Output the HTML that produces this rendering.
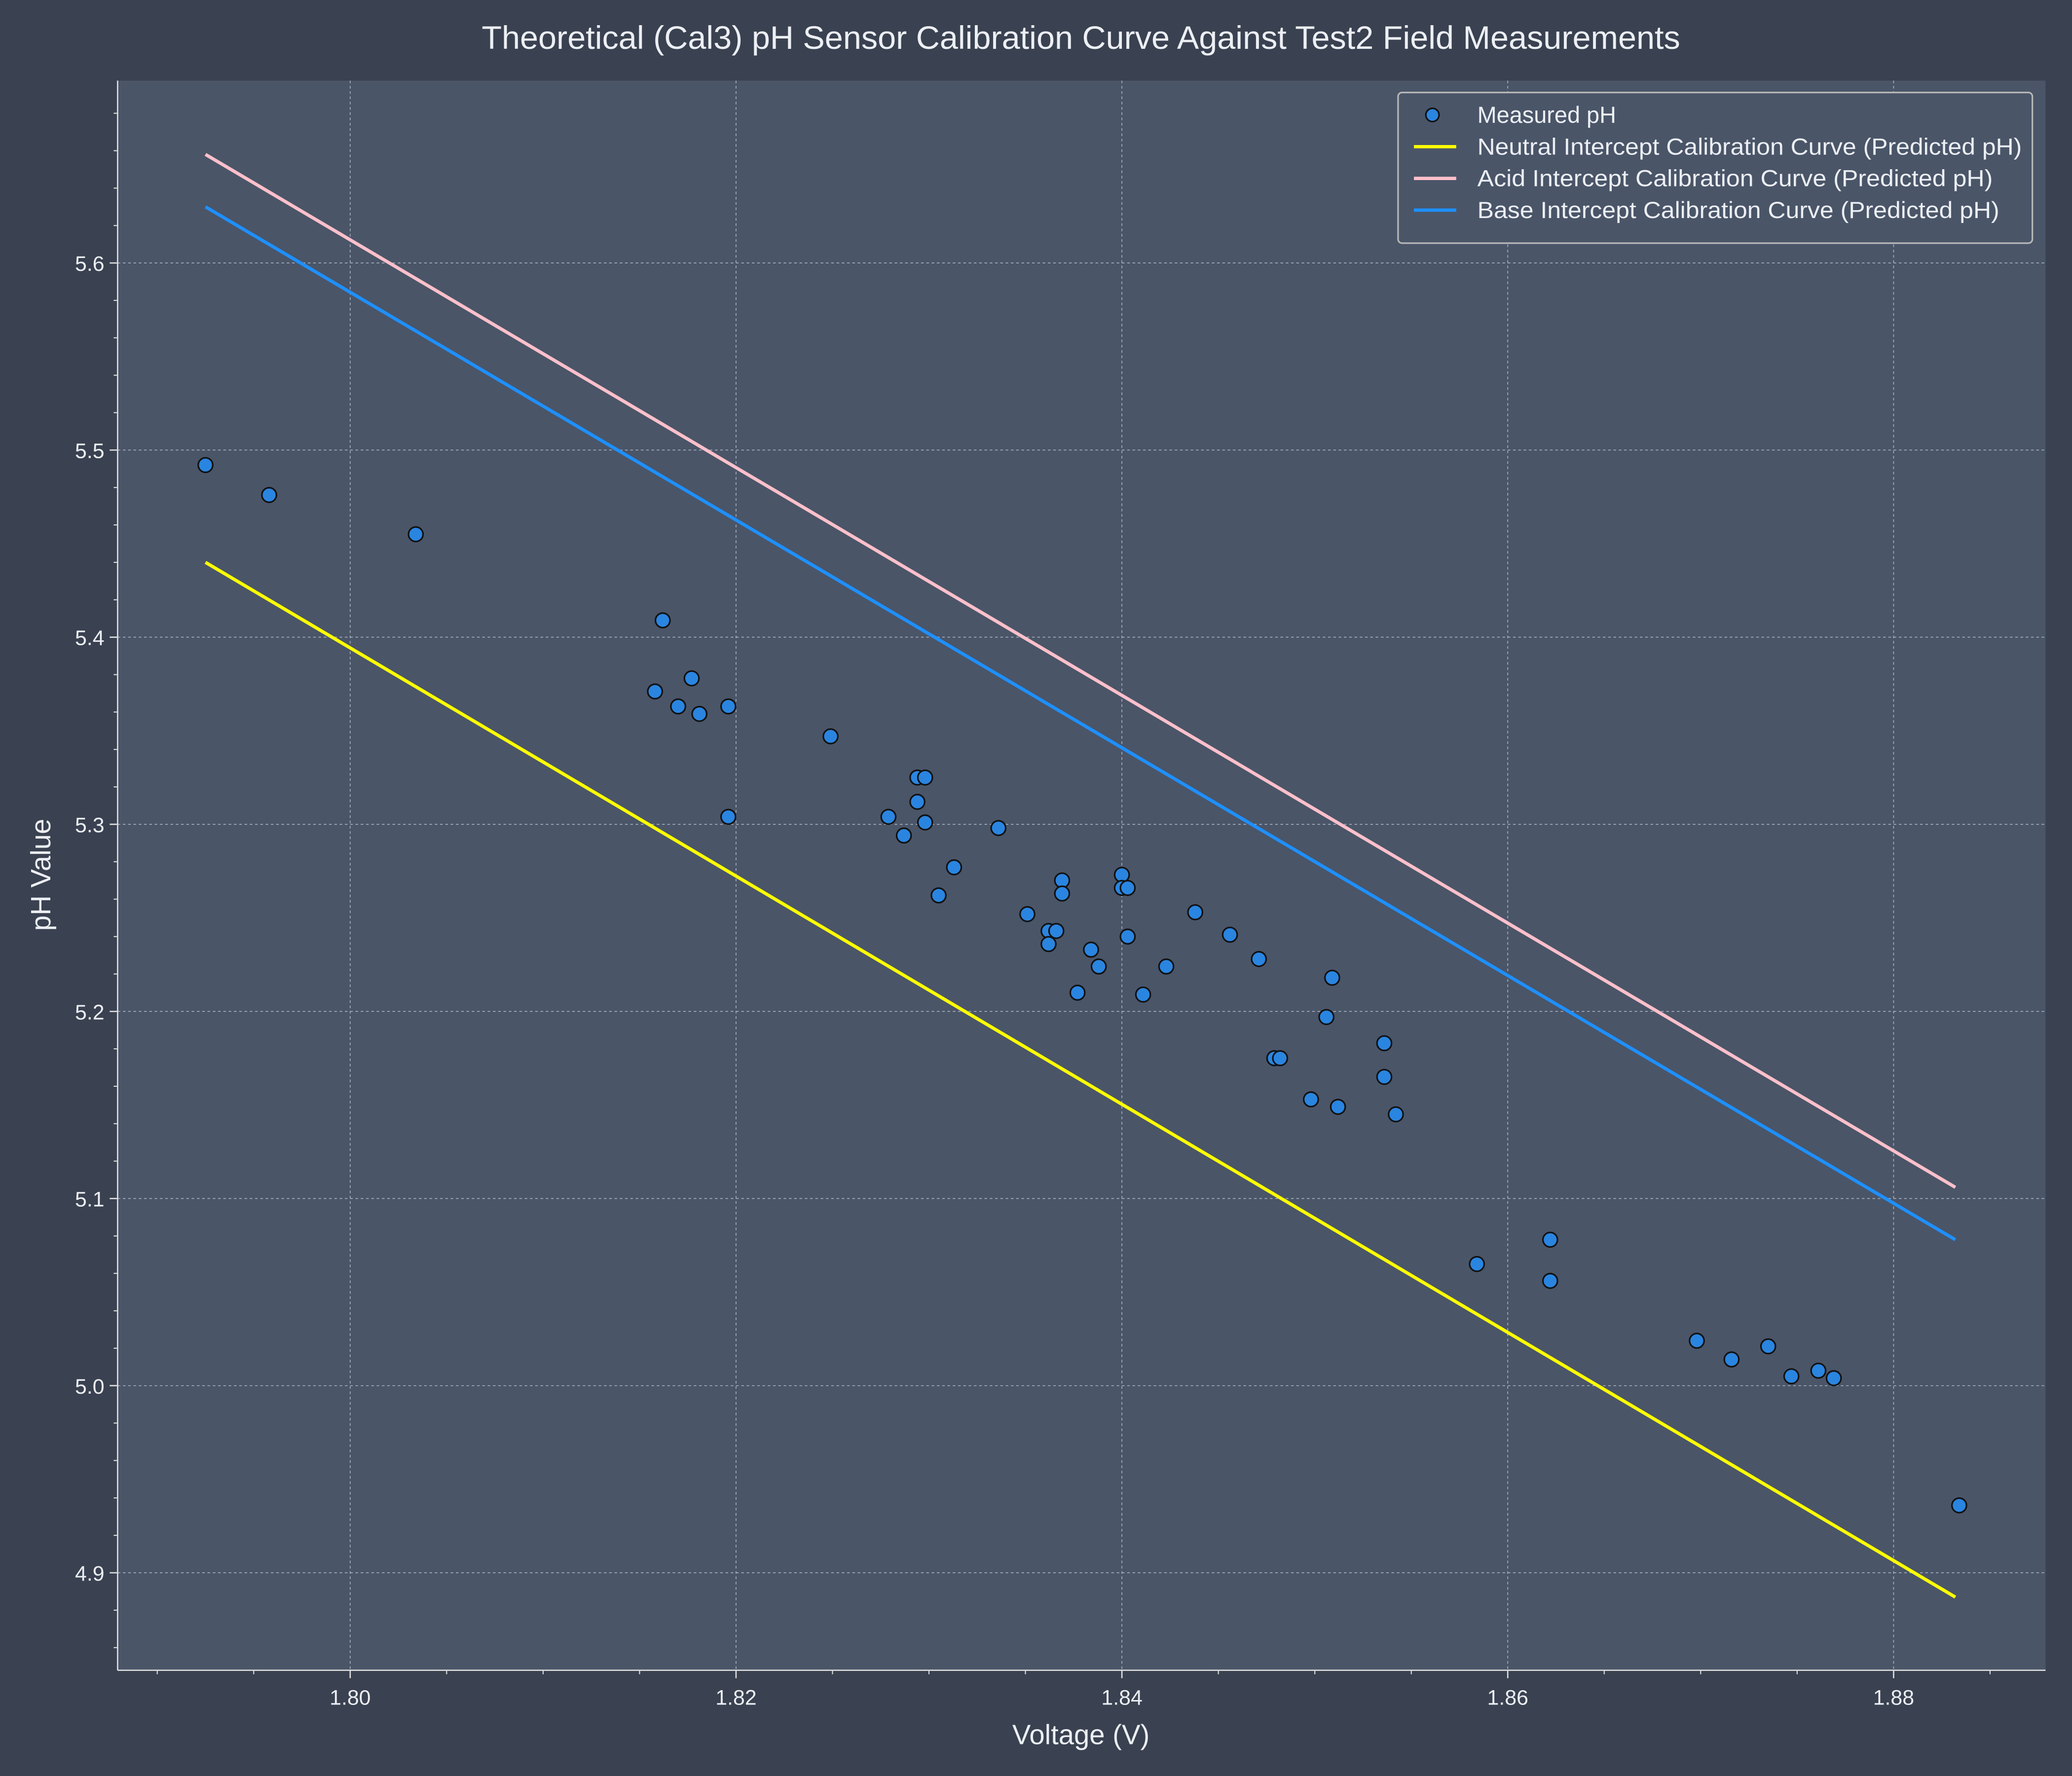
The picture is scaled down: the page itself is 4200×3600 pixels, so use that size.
<!DOCTYPE html>
<html><head><meta charset="utf-8"><style>
html,body{margin:0;padding:0;background:#3a4150;}
svg{display:block;font-family:"Liberation Sans",sans-serif;}
</style></head><body>
<svg id="chart" width="4200" height="3600" viewBox="0 0 1568 1344" xmlns="http://www.w3.org/2000/svg">
<rect x="0" y="0" width="1568" height="1344" fill="#3a4150"/>
<rect x="89" y="61" width="1459" height="1203" fill="#4a5568"/>
<g id="grid"></g>
<g id="axes"></g>
<g id="series"></g>
<text x="818" y="37" text-anchor="middle" font-size="24.5" fill="#eceff4" textLength="907" lengthAdjust="spacingAndGlyphs">Theoretical (Cal3) pH Sensor Calibration Curve Against Test2 Field Measurements</text>
<text x="818" y="1320" text-anchor="middle" font-size="21" fill="#eceff4">Voltage (V)</text>
<text x="38" y="662" text-anchor="middle" font-size="21" fill="#eceff4" transform="rotate(-90 38 662)">pH Value</text>
<g>
<rect x="1058" y="70" width="480" height="114" rx="3" fill="#4a5568" stroke="#b8b8b8" stroke-width="1.2"/>
<circle cx="1084" cy="87" r="5" fill="#2a85e0" stroke="#111" stroke-width="1.2"/>
<text x="1118" y="93" font-size="17.5" fill="#eceff4">Measured pH</text>
<line x1="1070" y1="111" x2="1102" y2="111" stroke="#ffff00" stroke-width="2.5"/>
<text x="1118" y="117" font-size="17.5" fill="#eceff4" textLength="412" lengthAdjust="spacingAndGlyphs">Neutral Intercept Calibration Curve (Predicted pH)</text>
<line x1="1070" y1="135" x2="1102" y2="135" stroke="#ffc0cb" stroke-width="2.5"/>
<text x="1118" y="141" font-size="17.5" fill="#eceff4" textLength="390" lengthAdjust="spacingAndGlyphs">Acid Intercept Calibration Curve (Predicted pH)</text>
<line x1="1070" y1="159" x2="1102" y2="159" stroke="#1e90ff" stroke-width="2.5"/>
<text x="1118" y="165" font-size="17.5" fill="#eceff4" textLength="395" lengthAdjust="spacingAndGlyphs">Base Intercept Calibration Curve (Predicted pH)</text>
</g>
</svg>
<script>
const xTicks = [1.80, 1.82, 1.84, 1.86, 1.88];
const yTicks = [4.9, 5.0, 5.1, 5.2, 5.3, 5.4, 5.5, 5.6];
const voltages = [1.7925,1.7958,1.8034,1.8162,1.8158,1.8170,1.8177,1.8181,1.8196,1.8196,1.8249,1.8279,1.8287,1.8294,1.8298,1.8294,1.8298,1.8305,1.8313,1.8336,1.8351,1.8362,1.8366,1.8362,1.8369,1.8369,1.8377,1.8384,1.8388,1.8400,1.8400,1.8403,1.8403,1.8411,1.8423,1.8438,1.8456,1.8471,1.8479,1.8482,1.8498,1.8506,1.8509,1.8512,1.8536,1.8536,1.8542,1.8584,1.8622,1.8622,1.8698,1.8716,1.8735,1.8747,1.8761,1.8769,1.8834];
const measuredPH = [5.492,5.476,5.455,5.409,5.371,5.363,5.378,5.359,5.363,5.304,5.347,5.304,5.294,5.325,5.325,5.312,5.301,5.262,5.277,5.298,5.252,5.243,5.243,5.236,5.270,5.263,5.210,5.233,5.224,5.273,5.266,5.266,5.240,5.209,5.224,5.253,5.241,5.228,5.175,5.175,5.153,5.197,5.218,5.149,5.183,5.165,5.145,5.065,5.078,5.056,5.024,5.014,5.021,5.005,5.008,5.004,4.936];
const curveV = [1.7925, 1.8832];
const neutralPH = [5.440, 4.887];
const acidPH = [5.658, 5.106];
const basePH = [5.630, 5.078];

const NS = "http://www.w3.org/2000/svg";
const X = v => 265 + (v - 1.80) * 14600;
const Y = p => 199 + (5.6 - p) * 1416;
function mk(tag, attrs, parent){const e=document.createElementNS(NS,tag);for(const k in attrs)e.setAttribute(k,attrs[k]);parent.appendChild(e);return e;}
const grid=document.getElementById('grid'), axes=document.getElementById('axes'), series=document.getElementById('series');

xTicks.forEach(t=>{
  const g=mk('line',{x1:X(t),x2:X(t),y1:61,y2:1264,stroke:'#aab2c0','stroke-width':0.6,'stroke-dasharray':'2,2'},grid);
  
  
  const tk=mk('line',{x1:X(t),x2:X(t),y1:1264,y2:1270,stroke:'#ddd','stroke-width':1},axes);
  
  
  const l=mk('text',{x:X(t),y:1290,'text-anchor':'middle','font-size':16,fill:'#eceff4'},axes);
  l.textContent=t.toFixed(2);
  
  
});
for(let v=1.790; v<=1.886; v+=0.005){
  const m=mk('line',{x1:X(v),x2:X(v),y1:1264,y2:1267,stroke:'#ddd','stroke-width':0.8},axes);
  
  
}
yTicks.forEach(t=>{
  const g=mk('line',{x1:89,x2:1548,y1:Y(t),y2:Y(t),stroke:'#aab2c0','stroke-width':0.6,'stroke-dasharray':'2,2'},grid);
  
  
  const tk=mk('line',{x1:83,x2:89,y1:Y(t),y2:Y(t),stroke:'#ddd','stroke-width':1},axes);
  
  
  const l=mk('text',{x:79,y:Y(t)+6,'text-anchor':'end','font-size':16,fill:'#eceff4'},axes);
  l.textContent=t.toFixed(1);
  
  
});
for(let p=4.86; p<=5.69; p+=0.02){
  const m=mk('line',{x1:86,x2:89,y1:Y(p),y2:Y(p),stroke:'#ddd','stroke-width':0.8},axes);
  
  
}
const ax1=mk('line',{x1:89,x2:89,y1:61,y2:1264,stroke:'#ddd','stroke-width':1},axes);


const ax2=mk('line',{x1:89,x2:1548,y1:1264,y2:1264,stroke:'#ddd','stroke-width':1},axes);



[[neutralPH,'#ffff00','neutral-curve'],[acidPH,'#ffc0cb','acid-curve'],[basePH,'#1e90ff','base-curve']].forEach(([arr,c,n])=>{
  const pts=curveV.map((v,i)=>X(v)+','+Y(arr[i])).join(' ');
  const pl=mk('polyline',{points:pts,fill:'none',stroke:c,'stroke-width':2.5},series);
  
  
});
voltages.forEach((v,i)=>{
  const c=mk('circle',{cx:X(v),cy:Y(measuredPH[i]),r:5.5,fill:'#2a85e0',stroke:'#111','stroke-width':1.2},series);
  
  
});
</script>
</body></html>
